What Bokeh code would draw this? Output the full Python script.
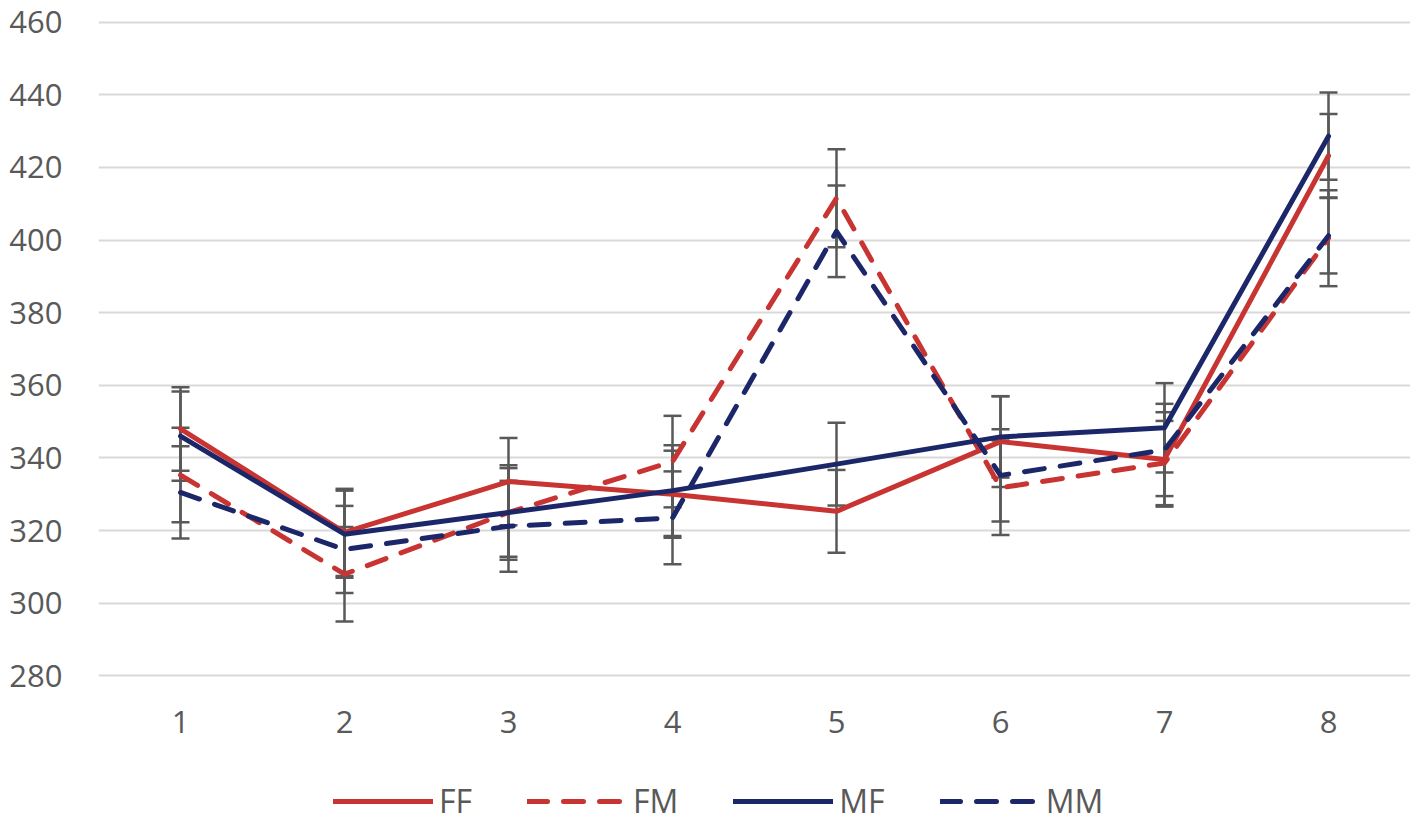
from bokeh.plotting import figure
from bokeh.layouts import column
from bokeh.models import (ColumnDataSource, FactorRange, Range1d, FixedTicker,
                          Whisker, TeeHead, Legend, LegendItem)
from bokeh.embed import file_html
from bokeh.resources import INLINE

categories = ["1", "2", "3", "4", "5", "6", "7", "8"]
series_names = ["FF", "FM", "MF", "MM"]
ff = [348.0, 319.5, 333.5, 330.0, 325.3, 344.5, 339.6, 423.2]
ff_err = [11.5, 12.0, 12.0, 12.0, 11.4, 12.5, 13.0, 11.5]
fm = [335.3, 308.0, 325.0, 339.0, 411.5, 331.8, 338.6, 400.5]
fm_err = [13.0, 13.0, 13.0, 12.6, 13.5, 13.0, 11.6, 13.2]
mf = [346.0, 319.0, 325.0, 331.0, 338.3, 345.8, 348.3, 428.6]
mf_err = [12.3, 12.0, 12.2, 12.5, 11.4, 11.2, 12.3, 12.0]
mm = [330.5, 314.8, 321.2, 323.5, 402.4, 335.2, 342.2, 401.2]
mm_err = [12.7, 12.0, 12.5, 12.8, 12.6, 12.7, 12.7, 10.4]
y_ticks = [280, 300, 320, 340, 360, 380, 400, 420, 440, 460]

RED = "#C73431"
NAVY = "#1B2768"
GREY = "#595959"
FONT = "Open Sans"
DASH = "20 16"

p = figure(width=1410, height=760, x_range=FactorRange(*categories),
           y_range=Range1d(279, 461), output_backend="svg",
           toolbar_location=None, min_border_left=98, min_border_right=0,
           min_border_top=18, min_border_bottom=81)
p.outline_line_color = None
p.xgrid.grid_line_color = None
p.ygrid.grid_line_color = "#D9D9D9"
p.ygrid.grid_line_width = 2
p.yaxis.ticker = FixedTicker(ticks=y_ticks)
for ax in (p.xaxis, p.yaxis):
    ax.axis_line_color = None
    ax.major_tick_line_color = None
    ax.minor_tick_line_color = None
    ax.major_tick_out = 0
    ax.major_label_text_font = FONT
    ax.major_label_text_font_size = "31px"
    ax.major_label_text_color = GREY
p.yaxis.major_label_standoff = 36
p.xaxis.major_label_standoff = 31

series = [
    (ff, ff_err, RED, "solid"),
    (fm, fm_err, RED, DASH),
    (mf, mf_err, NAVY, "solid"),
    (mm, mm_err, NAVY, DASH),
]

# error bars
for vals, errs, col, dash in series:
    src = ColumnDataSource(dict(x=categories,
                                lo=[v - e for v, e in zip(vals, errs)],
                                hi=[v + e for v, e in zip(vals, errs)]))
    w = Whisker(source=src, base="x", lower="lo", upper="hi",
                line_color=GREY, line_width=2.5,
                upper_head=TeeHead(size=18, line_color=GREY, line_width=2.5),
                lower_head=TeeHead(size=18, line_color=GREY, line_width=2.5))
    p.add_layout(w)

for vals, errs, col, dash in series:
    p.line(categories, vals, line_color=col, line_width=5,
           line_dash=dash, line_cap="round", line_join="round")

# legend strip below the chart
lg = figure(width=1410, height=62, x_range=Range1d(0, 1), y_range=Range1d(0, 1),
            output_backend="svg", toolbar_location=None, min_border=0,
            x_axis_location=None, y_axis_location=None)
lg.grid.grid_line_color = None
lg.outline_line_color = None
items = []
for name, (vals, errs, col, dash) in zip(series_names, series):
    r = lg.line([-5, -4], [-5, -5], line_color=col, line_width=5,
                line_dash=dash, line_cap="round")
    items.append(LegendItem(label=name, renderers=[r]))
legend = Legend(items=items, orientation="horizontal", location=(235, 0),
                glyph_width=100, glyph_height=30, label_standoff=6,
                spacing=55, padding=0, margin=0,
                label_text_font=FONT, label_text_font_size="32px",
                label_text_color=GREY, border_line_color=None,
                background_fill_alpha=0)
lg.add_layout(legend)

open("out.html", "w").write(file_html(column(p, lg, spacing=0), INLINE))
